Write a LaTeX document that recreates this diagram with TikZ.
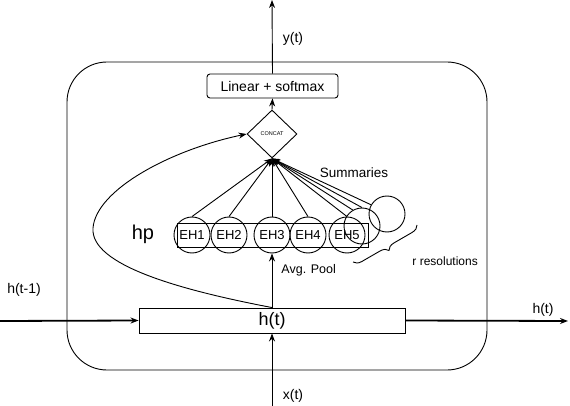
\documentclass[tikz,border=0pt]{standalone}
\usepackage{fontspec}
\setmainfont{Liberation Sans}
\usetikzlibrary{arrows.meta,shapes.geometric,decorations.pathreplacing}

\begin{document}
\begin{tikzpicture}
	[x=1pt, y=-1pt, line width=0.9pt, >={Stealth[length=8pt,width=6pt]},
	every node/.style={inner sep=0pt},
	lbl/.style={font=\fontsize{12}{12}\selectfont},
	ehnode/.style={circle,draw,minimum size=36pt,font=\fontsize{13}{13}\selectfont},
	resnode/.style={circle,draw,minimum size=36pt},
	thick line/.style={line width=1.8pt}]
	\useasboundingbox (0,0) rectangle (570,406);
	\clip (0,0) rectangle (570,406);
	\draw [rounded corners=40pt] (67,62) rectangle (487,370);
	\node (lin) [draw, rounded corners=3pt, minimum width=131pt, minimum height=24pt, font=\fontsize{14}{14}\selectfont] at (272.5,86) {Linear + softmax};
	\node (concat) [diamond, draw, minimum width=50pt, minimum height=48pt, font=\fontsize{5.5}{5.5}\selectfont] at (272,134) {CONCAT};
	\node (eh1) [ehnode] at (192,235) {EH1};
	\node (eh2) [ehnode] at (229,235) {EH2};
	\node (eh3) [ehnode] at (272,235) {EH3};
	\node (eh4) [ehnode] at (308,235) {EH4};
	\node (eh5) [ehnode] at (347,235) {EH5};
	\node (res2) [resnode] at (362,226) {};
	\node (res3) [resnode] at (387,214) {};
	\node (pool) [draw, minimum width=191pt, minimum height=24pt] at (272.5,235) {};
	\node (hbox) [draw, minimum width=266pt, minimum height=25pt, font=\fontsize{18}{18}\selectfont] at (272,320.5) {h(t)};
	\node (hp) [font=\fontsize{20}{20}\selectfont] at (143,234) {hp};
	\node (summ) [lbl, font=\fontsize{13.5}{13.5}\selectfont] at (354,173) {Summaries};
	\node (avg) [lbl] [anchor=west, font=\fontsize{12.5}{12.5}\selectfont] at (281,270) {Avg. Pool};
	\node (rres) [lbl, anchor=west] at (412,261) {r resolutions};
	\node (yt) [lbl, font=\fontsize{14}{14}\selectfont] at (293,39) {y(t)};
	\node (hprev) [lbl, font=\fontsize{14}{14}\selectfont] at (24,290) {h(t-1)};
	\node (hnext) [lbl, font=\fontsize{14}{14}\selectfont] at (543,310) {h(t)};
	\node (xt) [lbl, font=\fontsize{14}{14}\selectfont] at (293,396) {x(t)};
	\coordinate (top) at (272,0);
	\coordinate (bot) at (272,406);
	\coordinate (lft) at (0,321);
	\coordinate (rgt) at (568,321);
	\draw [->] (lin.north) -- (top);
	\draw [->] (concat.north) -- (lin.south);
	\foreach \s in {eh1.north,eh2.north,eh3.north,eh4.north,eh5.north,res2.120,res2.north,res3.150}
		\draw [->] (\s) -- (concat.south);
	\draw [->] (hbox.north) -- (eh3.south);
	\draw [->] (hbox.north) .. controls (180,290) and (90,265) .. (93,228) .. controls (96,190) and (170,150) .. (concat.west);
	\draw [decorate, decoration={brace, amplitude=8pt}] (417,225) -- (353,262);
	\draw [->, thick line] (lft) -- (hbox.west);
	\draw [->, thick line] (hbox.east) -- (rgt);
	\draw [->] (bot) -- (hbox.south);
\end{tikzpicture}
\end{document}
